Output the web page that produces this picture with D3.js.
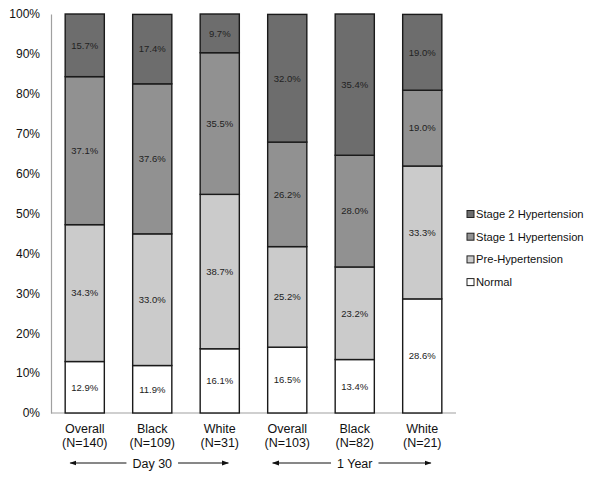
<!DOCTYPE html>
<html><head><meta charset="utf-8">
<script src="https://cdn.jsdelivr.net/npm/d3@7"></script>
<style>body{margin:0;background:#fff;}svg{display:block;font-family:"Liberation Sans",Arial,sans-serif;}</style>
</head><body><svg id="c" width="600" height="477"></svg>
<script>
const groups = ["Overall", "Black", "White", "Overall", "Black", "White"];
const nLabels = ["(N=140)", "(N=109)", "(N=31)", "(N=103)", "(N=82)", "(N=21)"];
const periods = ["Day 30", "1 Year"];
const seriesNames = ["Normal", "Pre-Hypertension", "Stage 1 Hypertension", "Stage 2 Hypertension"];
const normal = [12.9, 11.9, 16.1, 16.5, 13.4, 28.6];
const preHyp = [34.3, 33.0, 38.7, 25.2, 23.2, 33.3];
const stage1 = [37.1, 37.6, 35.5, 26.2, 28.0, 19.0];
const stage2 = [15.7, 17.4, 9.7, 32.0, 35.4, 19.0];
const yTicks = [0, 10, 20, 30, 40, 50, 60, 70, 80, 90, 100];
const colors = ["#ffffff", "#cbcbcb", "#919191", "#6d6d6d"];

const svg = d3.select("#c");
const mLeft = 51, mRight = 456, mTop = 14, mBottom = 413;
const idx = d3.range(groups.length);
const x = d3.scaleBand().domain(idx).range([mLeft, mRight]).paddingInner(0.42).paddingOuter(0.21);
const y = d3.scaleLinear().domain([0, 100]).range([mBottom, mTop]);

const seriesVals = [normal, preHyp, stage1, stage2];
const table = idx.map(i => {
  const o = {i};
  seriesNames.forEach((s, k) => o[s] = seriesVals[k][i]);
  return o;
});
const stack = d3.stack().keys(seriesNames)(table);

// axis
const yAxis = d3.axisLeft(y).tickValues(yTicks).tickFormat(d => d + "%").tickSize(0).tickPadding(11);
const ga = svg.append("g").attr("transform", `translate(${mLeft},0)`).call(yAxis);
ga.select(".domain").attr("stroke", "#a0a0a0").attr("stroke-width", 1.2);
ga.selectAll("text").attr("font-size", 12).attr("fill", "#111").attr("font-family", "Liberation Sans, Arial, sans-serif");
svg.append("line").attr("x1", mLeft).attr("x2", mRight).attr("y1", y(0)).attr("y2", y(0))
  .attr("stroke", "#a0a0a0").attr("stroke-width", 1.2);

// bars
stack.forEach((layer, k) => {
  const g = svg.append("g");
  g.selectAll("rect").data(layer).join("rect")
    .attr("x", d => x(d.data.i))
    .attr("width", x.bandwidth())
    .attr("y", d => y(Math.min(d[1], 100)))
    .attr("height", d => y(d[0]) - y(Math.min(d[1], 100)))
    .attr("fill", colors[k])
    .attr("stroke", "#1a1a1a").attr("stroke-width", 1.4);
});
stack.forEach((layer, k) => {
  svg.append("g").selectAll("text").data(layer).join("text")
    .attr("x", d => x(d.data.i) + x.bandwidth() / 2)
    .attr("y", d => y((d[0] + Math.min(d[1], 100)) / 2))
    .attr("dy", "0.35em")
    .attr("text-anchor", "middle")
    .attr("font-size", 9.5).attr("fill", "#222")
    .text(d => (d[1] - d[0]).toFixed(1) + "%");
});

// x labels
idx.forEach(i => {
  const cx = x(i) + x.bandwidth() / 2;
  svg.append("text").attr("x", cx).attr("y", 433).attr("text-anchor", "middle")
    .attr("font-size", 12.5).attr("fill", "#111").text(groups[i]);
  svg.append("text").attr("x", cx).attr("y", 447).attr("text-anchor", "middle")
    .attr("font-size", 12.5).attr("fill", "#111").text(nLabels[i]);
});

// period arrows
const defs = svg.append("defs");
defs.append("marker").attr("id", "ah").attr("viewBox", "0 0 10 10").attr("refX", 9).attr("refY", 5)
  .attr("markerWidth", 7).attr("markerHeight", 7).attr("orient", "auto-start-reverse")
  .append("path").attr("d", "M0,1.5 L10,5 L0,8.5 Z").attr("fill", "#111");
periods.forEach((p, j) => {
  const x0 = x(j * 3), x1 = x(j * 3 + 2) + x.bandwidth();
  const cx = (x0 + x1) / 2;
  const ay = 463;
  const t = svg.append("text").attr("x", cx).attr("y", ay + 4.5).attr("text-anchor", "middle")
    .attr("font-size", 12.5).attr("fill", "#111").text(p);
  const w = t.node().getComputedTextLength();
  svg.append("line").attr("x1", cx - w / 2 - 6).attr("x2", x0 + 5).attr("y1", ay).attr("y2", ay)
    .attr("stroke", "#111").attr("stroke-width", 1).attr("marker-end", "url(#ah)");
  svg.append("line").attr("x1", cx + w / 2 + 6).attr("x2", x1 - 11).attr("y1", ay).attr("y2", ay)
    .attr("stroke", "#111").attr("stroke-width", 1).attr("marker-end", "url(#ah)");
});

// legend
const legendOrder = [3, 2, 1, 0];
legendOrder.forEach((k, r) => {
  const ly = 214 + r * 22.7;
  svg.append("rect").attr("x", 467).attr("y", ly - 3.5).attr("width", 7).attr("height", 7)
    .attr("fill", colors[k]).attr("stroke", "#222").attr("stroke-width", 1);
  svg.append("text").attr("x", 476).attr("y", ly).attr("dy", "0.35em")
    .attr("font-size", 11.2).attr("fill", "#111").text(seriesNames[k]);
});
</script></body></html>
